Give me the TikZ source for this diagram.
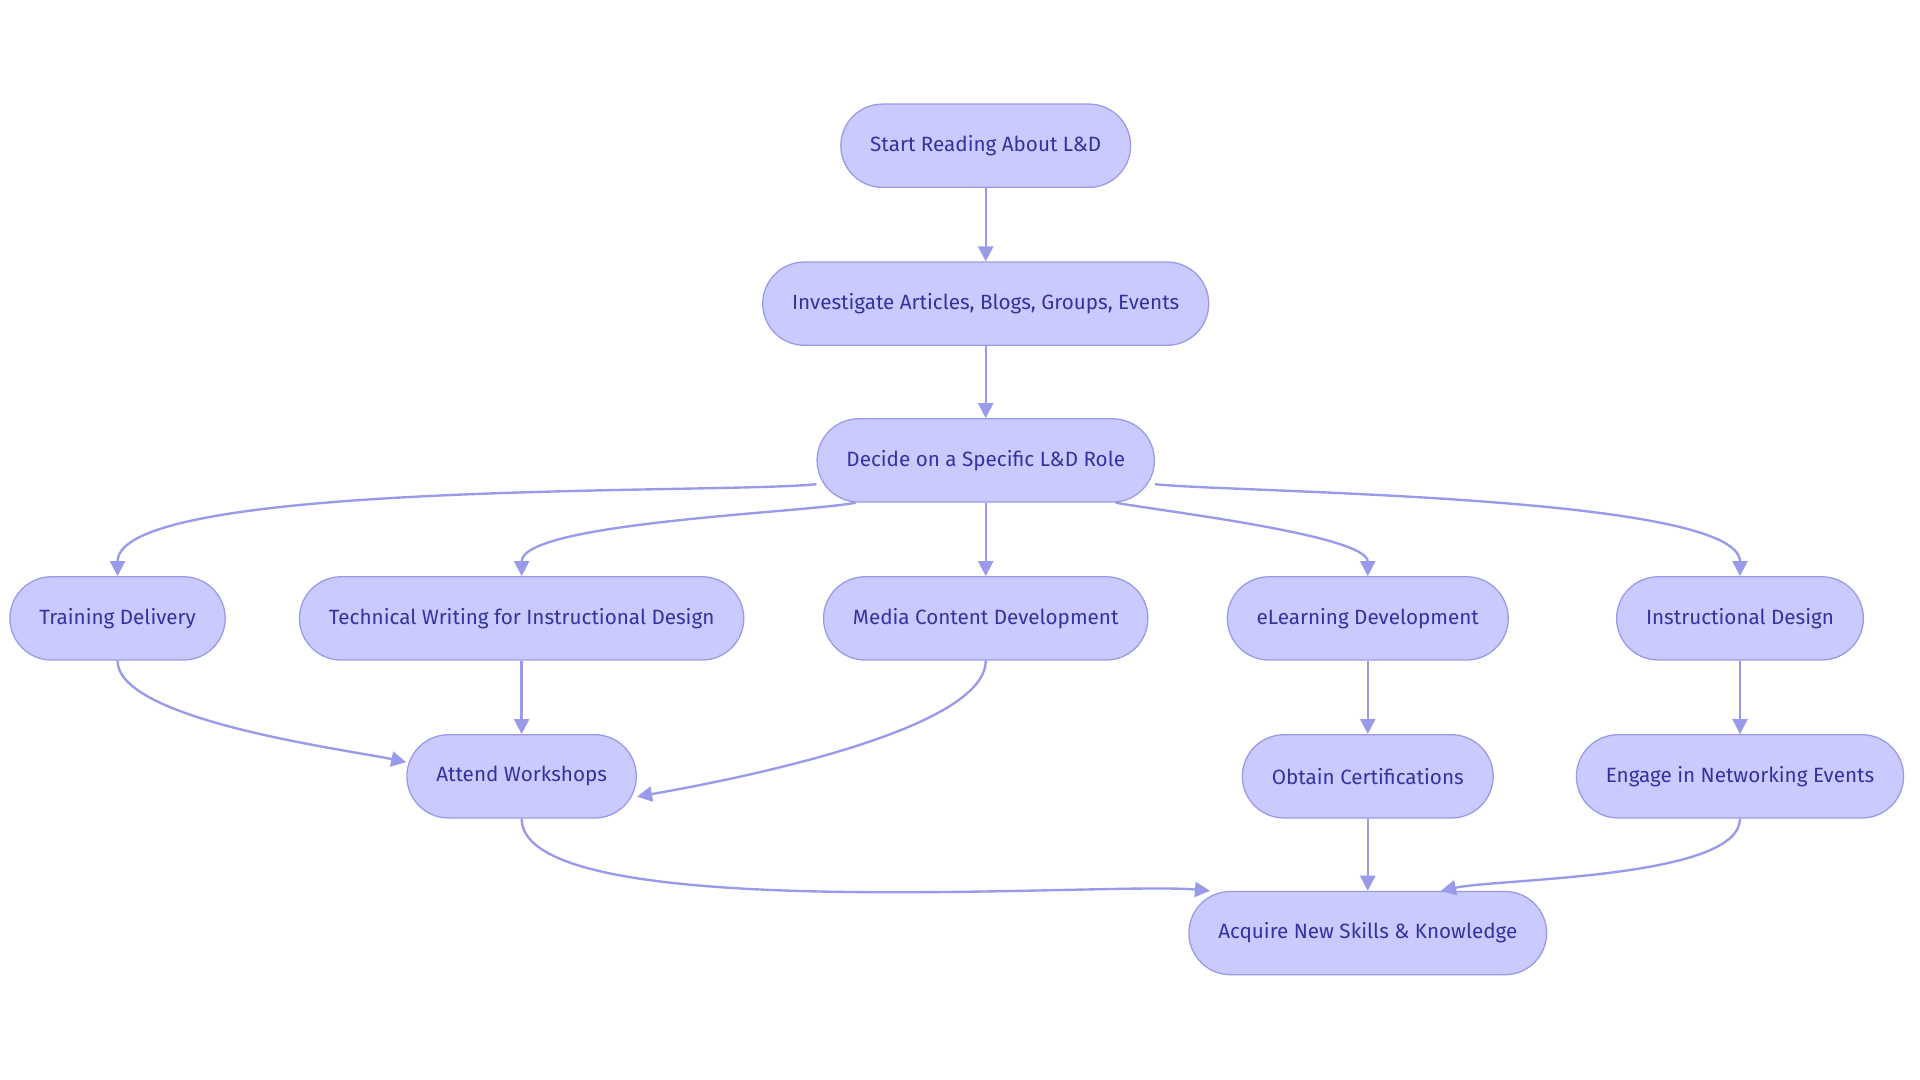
\documentclass[tikz,border=0pt]{standalone}
\usepackage{fontspec}
\setmainfont{Fira Sans}
\usetikzlibrary{arrows.meta}
\definecolor{boxfill}{HTML}{CACAFF}
\definecolor{boxline}{HTML}{9A9AEA}
\definecolor{boxtext}{HTML}{3333A0}
\tikzset{
  role/.style={rounded corners=0.68cm,fill=boxfill,draw=boxline,semithick,
    minimum height=1.36cm,inner xsep=0.48cm,text=boxtext,font=\fontsize{9.6}{11}\selectfont},
  flow/.style={-{Triangle[length=7pt,width=7pt]},draw=boxline,line width=1.1pt}
}
\begin{document}
\begin{tikzpicture}[x=0.02cm,y=-0.02cm]
  \useasboundingbox (0,0) rectangle (1568,882);

  \node[role] (start) at (805,119) {Start Reading About L\&D};
  \node[role] (inv) at (805,248) {Investigate Articles, Blogs, Groups, Events};
  \node[role] (dec) at (805,376) {Decide on a Specific L\&D Role};
  \node[role] (tra) at (96,505) {Training Delivery};
  \node[role] (tec) at (426,505) {Technical Writing for Instructional Design};
  \node[role] (med) at (805,505) {Media Content Development};
  \node[role] (elr) at (1117,505) {eLearning Development};
  \node[role] (ins) at (1421,505) {Instructional Design};
  \node[role] (att) at (426,634) {Attend Workshops};
  \node[role] (obt) at (1117,634) {Obtain Certifications};
  \node[role] (eng) at (1421,634) {Engage in Networking Events};
  \node[role] (acq) at (1117,762) {Acquire New Skills \& Knowledge};

  % main line
  \draw[flow] (start) -- (inv);
  \draw[flow] (inv) -- (dec);
  \draw[flow] (dec) -- (med);
  \draw[flow] (dec.188) to[out=186,in=90,looseness=0.35] (tra.north);
  \draw[flow] (dec.198) to[out=191,in=90,looseness=0.4] (tec.north);
  \draw[flow] (dec.-18) to[out=-11,in=90,looseness=0.4] (elr.north);
  \draw[flow] (dec.-8) to[out=-6,in=90,looseness=0.35] (ins.north);

  % branches
  \draw[flow] (tec) -- (att);
  \draw[flow] (tra.south) to[out=-90,in=168,looseness=0.5] (att.173);
  \draw[flow] (med.south) to[out=-90,in=10,looseness=0.5] (att.-10);
  \draw[flow] (elr) -- (obt);
  \draw[flow] (ins) -- (eng);
  \draw[flow] (obt) -- (acq);
  \draw[flow] (att.south) to[out=-90,in=175,looseness=0.4] (acq.165);
  \draw[flow] (eng.south) to[out=-90,in=12,looseness=0.5] (acq.30);
\end{tikzpicture}
\end{document}
